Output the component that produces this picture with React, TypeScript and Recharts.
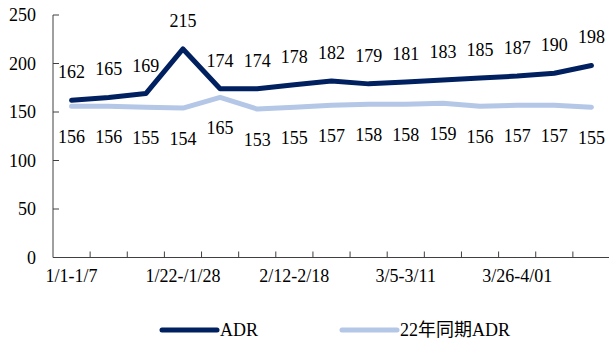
import { CartesianGrid, LabelList, Line, LineChart, XAxis, YAxis } from 'recharts'

const WEEKS = [
  '1/1-1/7',
  '1/8-1/14',
  '1/15-1/21',
  '1/22-/1/28',
  '1/29-2/4',
  '2/5-2/11',
  '2/12-2/18',
  '2/19-2/25',
  '2/26-3/4',
  '3/5-3/11',
  '3/12-3/18',
  '3/19-3/25',
  '3/26-4/01',
  '4/02-4/08',
  '4/09-4/15',
]
const ADR = [162, 165, 169, 215, 174, 174, 178, 182, 179, 181, 183, 185, 187, 190, 198]
const ADR_22 = [156, 156, 155, 154, 165, 153, 155, 157, 158, 158, 159, 156, 157, 157, 155]
const Y_TICKS = [0, 50, 100, 150, 200, 250]

const SERIES = [
  { key: 'adr', name: 'ADR', color: '#002060' },
  { key: 'adr22', name: '22年同期ADR', color: '#b4c7e7' },
]

const FONT = '"Liberation Serif", "Times New Roman", "Noto Sans CJK SC", serif'

const data = WEEKS.map((week, i) => ({ idx: i, week, adr: ADR[i], adr22: ADR_22[i] }))

// boundaries between weeks get tick marks, centres get (every third) label
const X_TICKS = [...WEEKS.map((_, i) => i - 0.5), ...WEEKS.map((_, i) => i), WEEKS.length - 0.5]

function WeekTick({ x, y, payload }: { x?: number; y?: number; payload?: { value: number } }) {
  const v = payload?.value ?? 0
  if (x === undefined || y === undefined) return <g />
  if (!Number.isInteger(v)) {
    if (v < 0) return <g />
    return <line x1={x} x2={x} y1={y} y2={y - 6} stroke="#404040" strokeWidth={1} />
  }
  if (v % 3 !== 0) return <g />
  return (
    <text x={x} y={y + 24.5} textAnchor="middle" fontFamily={FONT} fontSize={18} fill="#000">
      {WEEKS[v]}
    </text>
  )
}

function ChartLegend() {
  return (
    <svg width={609} height={24} style={{ position: 'absolute', left: 0, top: 318 }}>
      {SERIES.map((s, i) => {
        const x0 = 162 + i * 180
        return (
          <g key={s.key}>
            <line x1={x0} x2={x0 + 55} y1={12} y2={12} stroke={s.color} strokeWidth={5} strokeLinecap="round" />
            <text x={x0 + 58} y={18} fontFamily={FONT} fontSize={18} fill="#000">
              {s.name}
            </text>
          </g>
        )
      })}
    </svg>
  )
}

export default function App() {
  return (
    <div style={{ position: 'absolute', left: 0, top: 0, width: 609, height: 342, overflow: 'hidden', background: '#fff' }}>
      <LineChart width={612} height={342} data={data} margin={{ top: 15, right: 2, bottom: 54.5, left: 0 }}>
        <CartesianGrid stroke="none" />
        <XAxis
          dataKey="idx"
          type="number"
          domain={[-0.5, WEEKS.length - 0.5]}
          ticks={X_TICKS}
          interval={0}
          tickSize={0}
          tickMargin={0}
          tickLine={false}
          height={30}
          axisLine={{ stroke: '#404040' }}
          tick={(props: any) => <WeekTick {...props} />}
        />
        <YAxis
          domain={[0, 250]}
          ticks={Y_TICKS}
          width={53}
          tickSize={-6}
          tickMargin={23}
          axisLine={{ stroke: '#404040' }}
          tickLine={{ stroke: '#404040' }}
          tick={{ fontFamily: FONT, fontSize: 18, fill: '#000' }}
        />
        <Line
          dataKey="adr22"
          type="linear"
          stroke={SERIES[1].color}
          strokeWidth={5}
          strokeLinecap="round"
          strokeLinejoin="round"
          dot={false}
          isAnimationActive={false}
        >
          <LabelList dataKey="adr22" position="bottom" offset={24} fontFamily={FONT} fontSize={18} fill="#000" />
        </Line>
        <Line
          dataKey="adr"
          type="linear"
          stroke={SERIES[0].color}
          strokeWidth={5}
          strokeLinecap="round"
          strokeLinejoin="round"
          dot={false}
          isAnimationActive={false}
        >
          <LabelList dataKey="adr" position="top" offset={22} fontFamily={FONT} fontSize={18} fill="#000" />
        </Line>
      </LineChart>
      <ChartLegend />
    </div>
  )
}
